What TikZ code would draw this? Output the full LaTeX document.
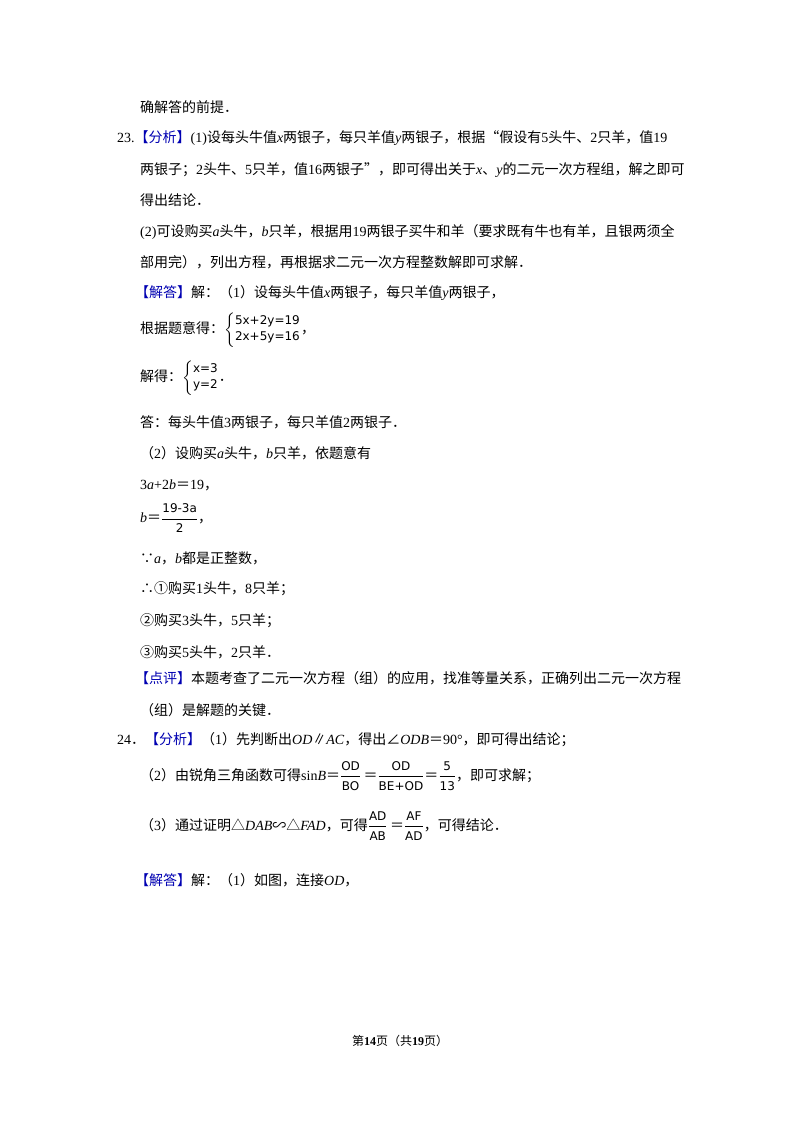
\documentclass[tikz,border=0pt]{standalone}
\usepackage{fontspec}
\setmainfont{Noto Sans CJK SC}
\newfontfamily\lt{Liberation Serif}
\newfontfamily\eqfont{DejaVu Sans}
\newcommand{\mi}[1]{{\lt\itshape #1}}
\newcommand{\nm}[1]{{\lt #1}}
\newcommand{\bl}[1]{{\color{blue!70!black}#1}}
\newcommand{\eq}[1]{\mbox{\fontsize{12}{12}\eqfont #1}}
\newcommand{\fr}[2]{$\dfrac{\eq{#1}}{\eq{#2}}$}
\usepackage{amsmath}
\begin{document}
\begin{tikzpicture}[x=1pt,y=-1pt,
 t/.style={anchor=west,inner sep=0pt,font=\fontsize{14}{14}\selectfont}]
\useasboundingbox (0,0) rectangle (800,1132);
\fill[white] (0,0) rectangle (800,1132);
\node[t] (l1) at (140,107) {确解答的前提．};
\node[t] (l2) at (117,138) {\nm{23.}\bl{【分析】}\nm{(1)}设每头牛值\mi{x}两银子，每只羊值\mi{y}两银子，根据“假设有\nm{5}头牛、\nm{2}只羊，值\nm{19}};
\node[t] (l3) at (140,170) {两银子；\nm{2}头牛、\nm{5}只羊，值\nm{16}两银子”，即可得出关于\mi{x}、\mi{y}的二元一次方程组，解之即可};
\node[t] (l4) at (140,200) {得出结论．};
\node[t] (l5) at (140,232) {\nm{(2)}可设购买\mi{a}头牛，\mi{b}只羊，根据用\nm{19}两银子买牛和羊（要求既有牛也有羊，且银两须全};
\node[t] (l6) at (140,262) {部用完），列出方程，再根据求二元一次方程整数解即可求解．};
\node[t] (l7) at (135,293) {\bl{【解答】}解：（\nm{1}）设每头牛值\mi{x}两银子，每只羊值\mi{y}两银子，};
\node[t] (l8) at (140,330) {根据题意得：$\left\{\begin{array}{@{}l@{}}\eq{5x+2y=19}\\[2pt]\eq{2x+5y=16}\end{array}\right.$，};
\node[t] (l9) at (140,378) {解得：$\left\{\begin{array}{@{}l@{}}\eq{x=3}\\[2pt]\eq{y=2}\end{array}\right.$．};
\node[t] (l10) at (140,422) {答：每头牛值\nm{3}两银子，每只羊值\nm{2}两银子．};
\node[t] (l11) at (140,453) {（\nm{2}）设购买\mi{a}头牛，\mi{b}只羊，依题意有};
\node[t] (l12) at (140,485) {\nm{3}\mi{a}\nm{+2}\mi{b}＝\nm{19}，};
\node[t] (l13) at (140,518) {\mi{b}＝\fr{19-3a}{2}，};
\node[t] (l14) at (140,558) {∵\mi{a}，\mi{b}都是正整数，};
\node[t] (l15) at (140,589) {∴①购买\nm{1}头牛，\nm{8}只羊；};
\node[t] (l16) at (140,621) {②购买\nm{3}头牛，\nm{5}只羊；};
\node[t] (l17) at (140,652) {③购买\nm{5}头牛，\nm{2}只羊．};
\node[t] (l18) at (135,678) {\bl{【点评】}本题考查了二元一次方程（组）的应用，找准等量关系，正确列出二元一次方程};
\node[t] (l19) at (140,710) {（组）是解题的关键．};
\node[t] (l20) at (117,740) {\nm{24}．\bl{【分析】}（\nm{1}）先判断出\mi{OD}∥\mi{AC}，得出∠\mi{ODB}＝\nm{90°}，即可得出结论；};
\node[t] (l21) at (140,776) {（\nm{2}）由锐角三角函数可得\nm{sin}\mi{B}＝\fr{OD}{BO}\,＝\fr{OD}{BE+OD}＝\fr{5}{13}，即可求解；};
\node[t] (l22) at (140,826) {（\nm{3}）通过证明△\mi{DAB}∽△\mi{FAD}，可得\fr{AD}{AB}\,＝\fr{AF}{AD}，可得结论．};
\node[t] (l23) at (135,880) {\bl{【解答】}解：（\nm{1}）如图，连接\mi{OD}，};
\node[inner sep=0pt,font=\fontsize{12}{12}\selectfont] (ft) at (400,1041) {第\textbf{\nm{14}}页（共\textbf{\nm{19}}页）};
\end{tikzpicture}
\end{document}
